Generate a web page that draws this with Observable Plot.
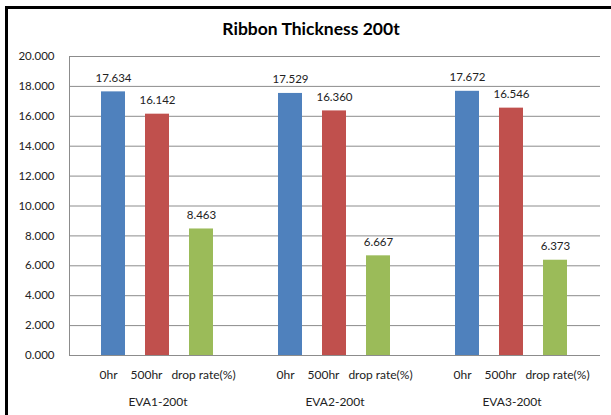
<!DOCTYPE html>
<html>
<head>
<meta charset="utf-8">
<script src="https://cdn.jsdelivr.net/npm/d3@7"></script>
<script src="https://cdn.jsdelivr.net/npm/@observablehq/plot@0.6"></script>
<style>
  html, body { margin: 0; padding: 0; background: #fff; }
  #wrap { position: relative; width: 611px; height: 415px; overflow: hidden; background: #fff; }
  #border { position: absolute; left: 5px; top: 6px; width: 700px; height: 500px;
            border-top: 3px solid #000; border-left: 3px solid #000; box-sizing: border-box; }
  #title { position: absolute; left: 0; top: 18px; width: 622px; text-align: center;
           font: bold 17.5px Lato, "Open Sans", sans-serif; color: #000; }
  #chart { position: absolute; left: 0; top: 0; }
</style>
</head>
<body>
<div id="wrap">
  <div id="border"></div>
  <div id="chart"></div>
  <div id="title">Ribbon Thickness 200t</div>
</div>
<script>
const groups = ["EVA1-200t", "EVA2-200t", "EVA3-200t"];
const series = ["0hr", "500hr", "drop rate(%)"];
const values0hr = [17.634, 17.529, 17.672];
const values500hr = [16.142, 16.360, 16.546];
const valuesDrop = [8.463, 6.667, 6.373];
const colors = ["#4F81BD", "#C0504D", "#9BBB59"];
const yTicks = [0, 2, 4, 6, 8, 10, 12, 14, 16, 18, 20];
const labelShift = [-5, -11, 2];

const seriesValues = [values0hr, values500hr, valuesDrop];
const rows = [];
groups.forEach((g, gi) => {
  series.forEach((s, si) => {
    rows.push({group: g, series: s, value: seriesValues[si][gi]});
  });
});

const fmt = d3.format(".3f");
const plot = Plot.plot({
  width: 611,
  height: 415,
  marginLeft: 68,
  marginRight: 10,
  marginTop: 56,
  marginBottom: 60,
  style: {fontFamily: "Lato, 'Open Sans', sans-serif", fontSize: "11.5px", color: "#222", background: "transparent"},
  fx: {domain: groups, padding: 0, label: null},
  x: {domain: series, paddingInner: 0.444, paddingOuter: 0.697, label: null},
  y: {domain: [0, 20], label: null},
  color: {domain: series, range: colors},
  marks: [
    Plot.gridY(yTicks, {stroke: "#8c8c8c", strokeOpacity: 1, strokeWidth: 1}),
    Plot.frame({anchor: "left", facetAnchor: "left", stroke: "#8c8c8c"}),
    Plot.barY(rows, {fx: "group", x: "series", y: "value", fill: "series"}),
    Plot.text(rows, {fx: "group", x: "series", y: "value", text: d => fmt(d.value), dy: -14, fill: "#222"}),
    Plot.axisY({ticks: yTicks, tickFormat: fmt, tickSize: 0, tickPadding: 15, label: null, fill: "#222"}),
    ...series.map((s, i) => Plot.axisX([s], {tickSize: 0, tickPadding: 15, label: null, fill: "#222", dx: labelShift[i], fontSize: 12})),
    Plot.axisFx({tickSize: 0, tickPadding: 42, label: null, fill: "#222", anchor: "bottom", fontSize: 12})
  ]
});
document.getElementById("chart").appendChild(plot);
</script>
</body>
</html>
